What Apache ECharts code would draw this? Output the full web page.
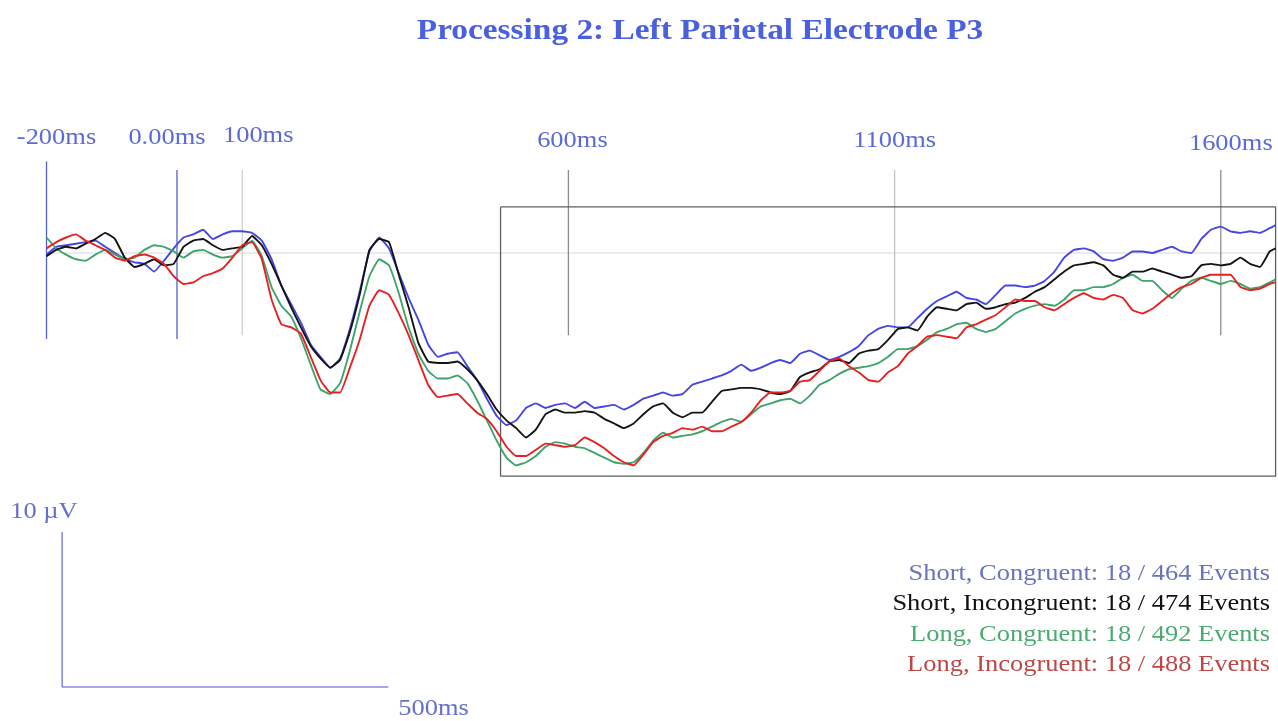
<!DOCTYPE html>
<html>
<head>
<meta charset="utf-8">
<title>Processing 2: Left Parietal Electrode P3</title>
<script src="https://cdn.jsdelivr.net/npm/echarts@6/dist/echarts.min.js"></script>
<style>
  html, body { margin: 0; padding: 0; background: #ffffff; }
  #main { width: 1278px; height: 721px; }
</style>
</head>
<body>
<div id="main"></div>
<script>
// Sample times (ms relative to stimulus onset)
const times = [
  -200,-185,-170,-155,-140,-125,-110,-95,-80,-65,
  -50,-35,-20,-5,10,25,40,55,70,85,
  100,115,130,145,160,175,190,205,220,235,
  250,265,280,295,310,325,340,355,370,385,
  400,415,430,445,460,475,490,505,520,535,
  550,565,580,595,610,625,640,655,670,685,
  700,715,730,745,760,775,790,805,820,835,
  850,865,880,895,910,925,940,955,970,985,
  1000,1015,1030,1045,1060,1075,1090,1105,1120,1135,
  1150,1165,1180,1195,1210,1225,1240,1255,1270,1285,
  1300,1315,1330,1345,1360,1375,1390,1405,1420,1435,
  1450,1465,1480,1495,1510,1525,1540,1555,1570,1585,
  1600,1615,1630,1645,1660,1675,1684
];

// Grand-average amplitudes at P3 (µV), one list per condition
const shortCongruent = [
  -0.1,0.4,0.5,0.6,0.7,0.8,0.4,0.0,-0.4,-0.6,
  -0.7,-1.2,-0.5,0.3,1.0,1.2,1.5,0.9,1.2,1.4,
  1.4,1.3,0.8,-0.4,-2.1,-3.3,-4.5,-5.9,-6.7,-7.4,
  -6.8,-4.9,-2.5,0.1,1.0,0.3,-1.3,-2.9,-4.3,-5.9,
  -6.7,-6.5,-6.4,-7.3,-8.2,-9.4,-10.5,-11.1,-10.8,-10.0,
  -9.7,-10.0,-9.8,-9.7,-10.0,-9.6,-10.0,-9.9,-9.8,-10.1,
  -9.8,-9.4,-9.2,-9.0,-9.2,-9.1,-8.5,-8.3,-8.1,-7.9,
  -7.6,-7.2,-7.6,-7.4,-7.1,-6.9,-7.1,-6.5,-6.3,-6.6,
  -6.9,-6.7,-6.4,-6.0,-5.3,-4.9,-4.7,-4.8,-4.8,-4.2,
  -3.6,-3.1,-2.8,-2.5,-2.9,-3.0,-3.3,-2.7,-2.1,-2.1,
  -2.2,-2.1,-1.8,-1.2,-0.3,0.2,0.3,0.1,-0.4,-0.5,
  -0.3,0.1,0.1,0.0,0.2,0.4,0.1,0.0,0.9,1.5,
  1.7,1.4,1.3,1.4,1.3,1.6,1.8
];
const shortIncongruent = [
  -0.2,0.2,0.4,0.3,0.6,0.9,1.3,0.9,-0.3,-0.9,
  -0.7,-0.4,-0.8,-0.7,0.4,0.8,0.9,0.5,0.2,0.3,
  0.4,1.1,0.5,-0.7,-2.1,-3.5,-4.8,-6.0,-6.8,-7.4,
  -6.9,-5.1,-2.7,0.2,0.9,0.7,-1.4,-3.5,-5.8,-7.0,
  -7.1,-7.1,-7.0,-7.5,-8.2,-9.1,-10.1,-10.8,-11.3,-11.9,
  -11.4,-10.4,-10.1,-10.3,-10.3,-10.2,-10.3,-10.7,-11.0,-11.3,
  -11.0,-10.4,-9.9,-9.7,-10.3,-10.6,-10.3,-10.3,-9.6,-8.9,
  -8.8,-8.7,-8.7,-8.8,-9.0,-9.1,-8.9,-8.0,-7.7,-7.5,
  -7.0,-6.9,-7.1,-6.5,-6.3,-6.2,-5.6,-4.9,-4.8,-5.0,
  -4.1,-3.5,-3.6,-3.7,-3.3,-3.2,-3.6,-3.5,-3.3,-3.2,
  -2.9,-2.5,-2.2,-1.7,-1.2,-0.8,-0.7,-0.6,-0.8,-1.4,
  -1.6,-1.2,-1.2,-1.0,-1.2,-1.4,-1.6,-1.5,-0.8,-0.7,
  -0.8,-0.7,-0.3,-0.7,-0.9,0.1,0.3
];
const longCongruent = [
  1.0,0.3,-0.1,-0.4,-0.5,-0.1,0.2,-0.1,-0.4,-0.3,
  0.2,0.5,0.4,0.1,-0.3,0.1,0.2,-0.1,-0.3,-0.2,
  0.3,0.8,-0.2,-2.2,-3.4,-4.1,-5.5,-7.2,-8.8,-9.1,
  -8.4,-6.3,-3.8,-1.5,-0.4,-0.8,-2.6,-4.8,-6.5,-7.6,
  -8.1,-8.1,-7.9,-8.4,-9.5,-10.8,-12.1,-13.2,-13.7,-13.5,
  -13.1,-12.5,-12.2,-12.3,-12.5,-12.6,-12.9,-13.2,-13.5,-13.6,
  -13.5,-12.9,-12.1,-11.6,-11.9,-11.8,-11.7,-11.5,-11.2,-10.9,
  -10.7,-10.9,-10.4,-9.9,-9.7,-9.5,-9.4,-9.7,-9.2,-8.5,
  -8.2,-7.8,-7.5,-7.4,-7.3,-7.1,-6.7,-6.2,-6.2,-6.0,
  -5.6,-5.1,-4.9,-4.6,-4.5,-4.9,-5.1,-4.9,-4.4,-3.9,
  -3.6,-3.4,-3.3,-3.4,-3.0,-2.4,-2.4,-2.2,-2.2,-2.0,
  -1.6,-1.4,-1.8,-1.8,-2.4,-2.9,-2.3,-1.8,-1.6,-1.8,
  -2.0,-1.8,-2.0,-2.3,-2.2,-1.9,-1.7
];
const longIncongruent = [
  0.3,0.7,1.0,1.2,0.8,0.5,0.2,-0.3,-0.5,-0.2,
  -0.1,-0.3,-0.7,-1.5,-2.0,-1.9,-1.5,-1.3,-1.0,-0.3,
  0.5,0.7,-0.4,-3.0,-4.6,-4.8,-5.2,-6.7,-8.2,-9.0,
  -9.0,-7.4,-5.6,-3.4,-2.4,-2.7,-3.9,-5.3,-6.9,-8.5,
  -9.3,-9.2,-9.1,-9.7,-10.3,-10.7,-11.5,-12.5,-13.1,-13.1,
  -12.7,-12.3,-12.4,-12.5,-12.4,-11.9,-12.2,-12.6,-13.1,-13.5,
  -13.7,-13.0,-12.2,-11.8,-11.6,-11.3,-11.4,-11.2,-11.5,-11.5,
  -11.2,-10.9,-10.3,-9.5,-9.0,-9.0,-8.9,-8.3,-8.2,-7.6,
  -7.0,-6.8,-7.3,-7.7,-8.2,-8.3,-7.7,-7.3,-6.5,-6.0,
  -5.4,-5.3,-5.4,-5.5,-4.8,-4.6,-4.3,-4.0,-3.5,-3.0,
  -3.1,-3.1,-3.5,-3.7,-3.3,-2.9,-2.6,-2.9,-3.0,-2.7,
  -2.9,-3.7,-3.9,-3.6,-3.1,-2.6,-2.2,-2.0,-1.6,-1.4,
  -1.4,-1.4,-2.2,-2.4,-2.3,-2.0,-1.9
];

const conditionNames = ['Short, Congruent', 'Short, Incongruent', 'Long, Congruent', 'Long, Incogruent'];
const subjectCounts = [18, 18, 18, 18];
const eventCounts = [464, 474, 492, 488];

// Time markers along the top
const tickTimes = [-200, 0, 100, 600, 1100, 1600];
const tickLabels = ['-200ms', '0.00ms', '100ms', '600ms', '1100ms', '1600ms'];

// Analysis window (ms) and calibration bar sizes
const windowStartMs = 496;
const windowEndMs = 1684;
const scaleBarMs = 500;
const scaleBarUv = 10;

// ---- styling / layout ----
const FONT = "'Liberation Serif', 'Times New Roman', serif";
const STRETCH = 1.15;
const curveColors = ['#4646e0', '#141414', '#3fa46c', '#e52222'];
const legendColors = ['#6a74bc', '#111111', '#4caa70', '#bb4747'];
const drawOrder = [3, 5, 4, 6];
const tickColors = ['#5560d2', '#5560d2', '#cfcfcf', '#8c8c8c', '#c4c4c4', '#8c8c8c'];
const tickTop = [5.9, 5.35, 5.35, 5.35, 5.35, 5.35];
const tickBottom = [-5.55, -5.55, -5.3, -5.3, -5.3, -5.3];
const tickLabelDx = [10, -10, 16, 4, 0, 10];
const tickLabelY = [138, 138, 136, 141, 141, 144];
const windowTop = 2.97, windowBottom = -14.4;
const barX = -176, barTop = -18, barBottom = -28;

const chart = echarts.init(document.getElementById('main'), null, { renderer: 'canvas' });

const zip = (vals) => times.map((t, i) => [t, vals[i]]);
const curves = [shortCongruent, shortIncongruent, longCongruent, longIncongruent];

const series = [];

// zero baseline
series.push({
  type: 'line', silent: true, symbol: 'none', z: 1,
  data: [[times[0], 0], [times[times.length - 1], 0]],
  lineStyle: { color: '#d8d8d8', width: 1 }
});

// time marker lines
tickTimes.forEach((t, i) => {
  series.push({
    type: 'line', silent: true, symbol: 'none', z: 2,
    data: [[t, tickTop[i]], [t, tickBottom[i]]],
    lineStyle: { color: tickColors[i], width: 1.3 }
  });
});

// analysis window
series.push({
  type: 'line', silent: true, symbol: 'none', z: 2,
  data: [[windowStartMs, windowTop], [windowEndMs, windowTop], [windowEndMs, windowBottom],
         [windowStartMs, windowBottom], [windowStartMs, windowTop]],
  lineStyle: { color: '#5e5e5e', width: 1.3 }
});

// calibration bar
series.push({
  type: 'line', silent: true, symbol: 'none', z: 2,
  data: [[barX, barBottom + scaleBarUv], [barX, barBottom], [barX + scaleBarMs, barBottom]],
  lineStyle: { color: '#8b8be4', width: 1.6 }
});

// waveforms
curves.forEach((vals, i) => {
  series.push({
    name: conditionNames[i],
    type: 'line', symbol: 'none', smooth: 0.12, z: drawOrder[i],
    data: zip(vals),
    lineStyle: { color: curveColors[i], width: 1.9 }
  });
});

chart.setOption({
  backgroundColor: '#ffffff',
  animation: false,
  grid: { left: 46.5, right: 1.1, top: 20.5, bottom: 3, containLabel: false },
  xAxis: { type: 'value', min: -200, max: 1686, show: false },
  yAxis: { type: 'value', min: -30, max: 15, show: false },
  series: series
});

// text drawn on top, positioned through the axes
const px = (t, v) => chart.convertToPixel({ gridIndex: 0 }, [t, v]);
const graphics = [];
const addText = (x, y, text, opts) => {
  graphics.push({
    type: 'text', x: x, y: y, scaleX: STRETCH, z: 100, silent: true,
    style: Object.assign({
      text: text, font: '23px ' + FONT, fill: '#5a6ad6',
      textAlign: 'center', textVerticalAlign: 'middle'
    }, opts || {})
  });
};

addText(700, 32, 'Processing 2: Left Parietal Electrode P3',
  { font: 'bold 29px ' + FONT, fill: '#4a60de' });

tickTimes.forEach((t, i) => {
  const p = px(t, 0);
  addText(p[0] + tickLabelDx[i], tickLabelY[i], tickLabels[i]);
});

const barTopPx = px(barX, barBottom + scaleBarUv);
const barEndPx = px(barX + scaleBarMs, barBottom);
addText(barTopPx[0] - 52, barTopPx[1] - 20, scaleBarUv + ' µV', { textAlign: 'left', fill: '#6670cc' });
addText(barEndPx[0] + 10, barEndPx[1] + 22, scaleBarMs + 'ms', { textAlign: 'left', fill: '#6670cc' });

const legendY = [574, 604, 635, 665];
conditionNames.forEach((name, i) => {
  addText(1270, legendY[i], name + ': ' + subjectCounts[i] + ' / ' + eventCounts[i] + ' Events',
    { textAlign: 'right', fill: legendColors[i] });
});

chart.setOption({ graphic: graphics });
</script>
</body>
</html>
